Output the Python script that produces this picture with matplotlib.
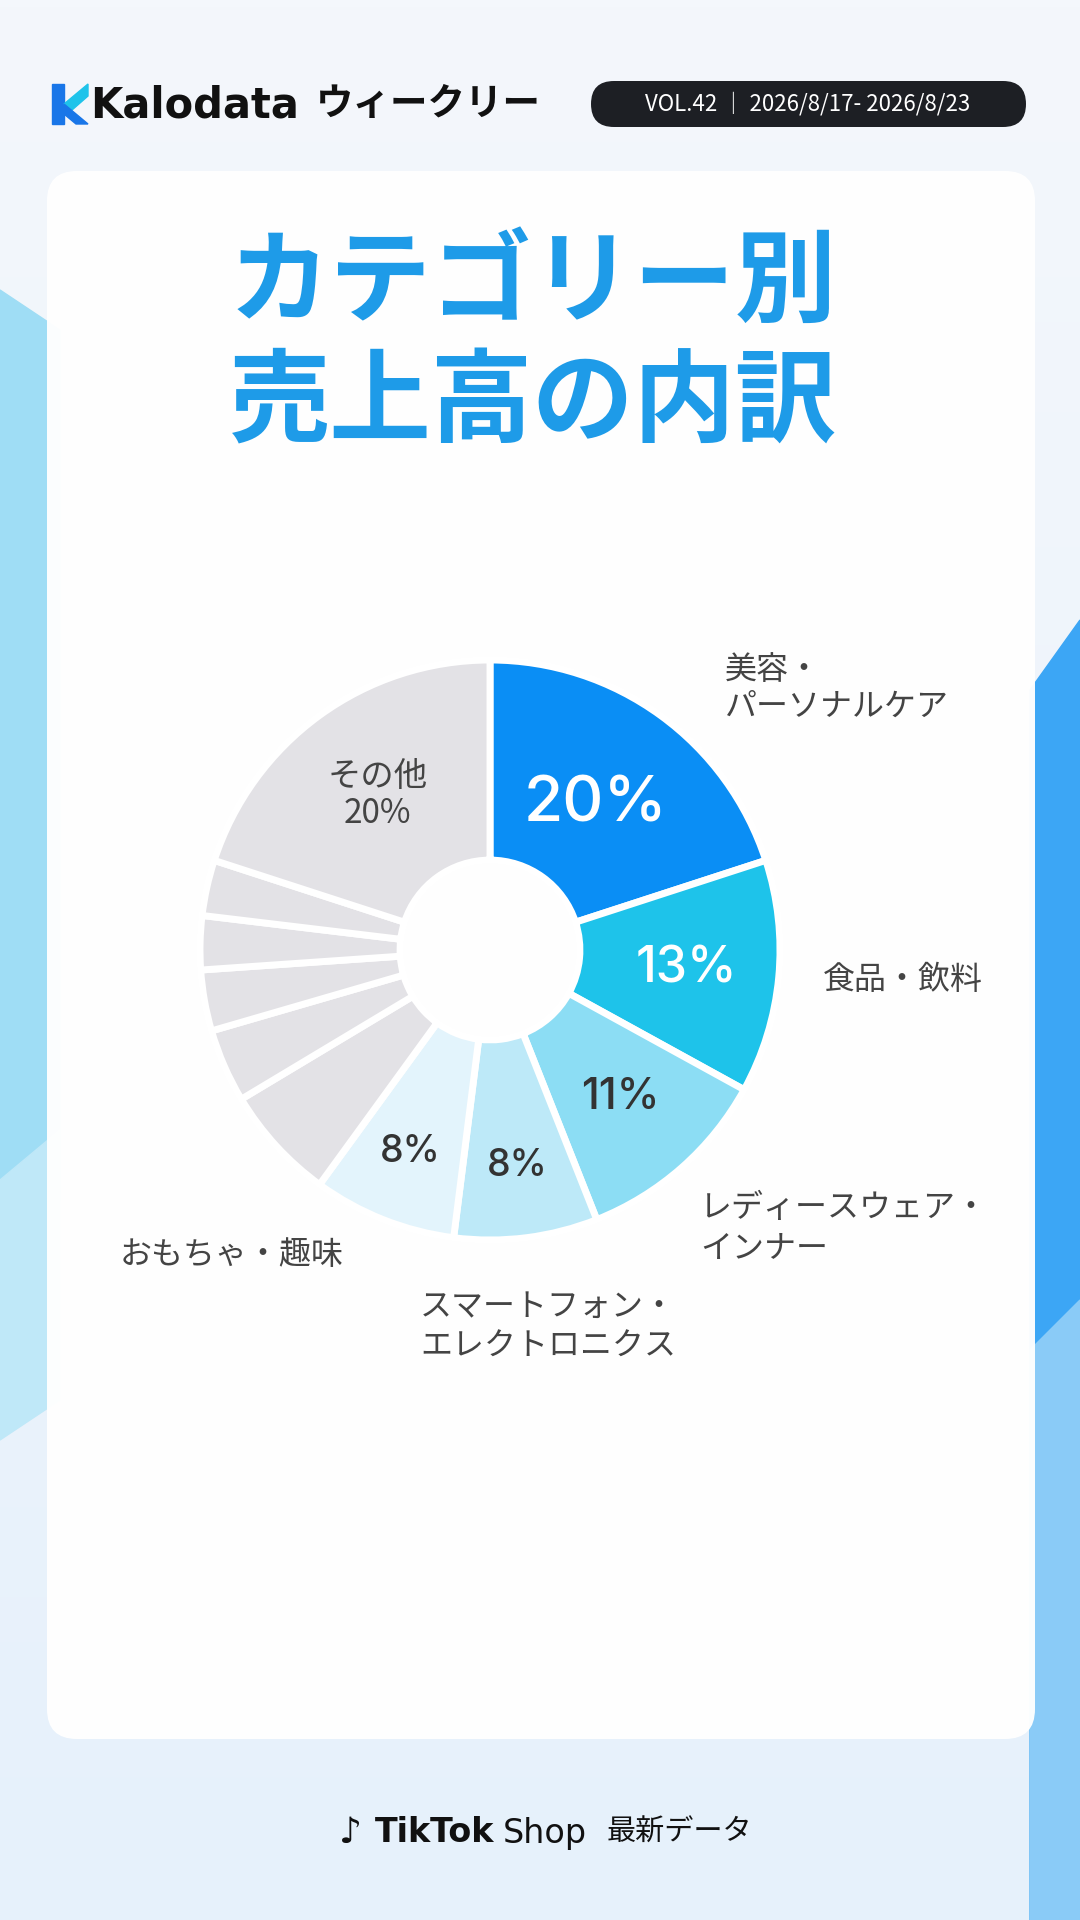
import matplotlib
matplotlib.use("Agg")
import matplotlib.pyplot as plt
import numpy as np
from matplotlib.patches import FancyBboxPatch, Polygon

plt.rcParams['font.family'] = ['Noto Sans CJK JP', 'DejaVu Sans']

categories = ["美容・\nパーソナルケア", "食品・飲料", "レディースウェア・\nインナー",
              "スマートフォン・\nエレクトロニクス", "おもちゃ・趣味",
              "g5", "g4", "g3", "g2", "g1", "その他"]
values = [20, 13, 11, 8, 8, 6.4, 4.1, 3.4, 3.0, 3.1, 20]
pct_labels = ["20%", "13%", "11%", "8%", "8%", "", "", "", "", "", ""]
colors = ["#0A8EF5", "#1EC3EA", "#8CDDF4", "#BDE9F8", "#E3F4FC",
          "#E3E2E6", "#E3E2E6", "#E3E2E6", "#E3E2E6", "#E3E2E6", "#E3E2E6"]

W, H = 1080, 1920
fig = plt.figure(figsize=(10.8, 19.2), dpi=100)
bg = fig.add_axes([0, 0, 1, 1])
bg.set_xlim(0, W); bg.set_ylim(H, 0); bg.axis("off")

grad = np.linspace(0, 1, 256).reshape(-1, 1)
bg.imshow(grad, extent=[0, W, H, 0], cmap=matplotlib.colors.LinearSegmentedColormap.from_list(
    "b", ["#F4F7FC", "#E6F1FB"]), aspect="auto", zorder=0)
bg.add_patch(Polygon([[0, 290], [60, 330], [60, 1200], [0, 1230]], color="#9FDDF5", zorder=1))
bg.add_patch(Polygon([[0, 1180], [60, 1130], [60, 1400], [0, 1440]], color="#BFE8F8", zorder=1))
bg.add_patch(Polygon([[1080, 620], [1030, 690], [1030, 1920], [1080, 1920]], color="#3CA6F5", zorder=1))
bg.add_patch(Polygon([[1080, 1300], [1030, 1350], [1030, 1920], [1080, 1920]], color="#8ACBF7", zorder=1))

bg.add_patch(FancyBboxPatch((47, 171), 988, 1568, boxstyle="round,pad=0,rounding_size=30",
                            fc="white", ec="none", alpha=0.97, zorder=2))

bg.add_patch(Polygon([[52, 84], [64, 84], [64, 124], [52, 124]], color="#1976E8", zorder=3))
bg.add_patch(Polygon([[64, 104], [88, 84], [88, 96], [72, 110]], color="#1EC3EA", zorder=3))
bg.add_patch(Polygon([[64, 104], [88, 124], [76, 124], [64, 114]], color="#1976E8", zorder=3))
bg.text(90, 106, "Kalodata", fontsize=30, fontweight="bold", color="#111111",
        ha="left", va="center", family=["DejaVu Sans"], zorder=3)
bg.text(316, 104, "ウィークリー", fontsize=27, fontweight="bold", color="#111111",
        ha="left", va="center", zorder=3)
bg.add_patch(FancyBboxPatch((591, 81), 435, 46, boxstyle="round,pad=0,rounding_size=23",
                            fc="#1D1F24", ec="none", zorder=3))
bg.text(808, 104, "VOL.42 ｜ 2026/8/17- 2026/8/23", fontsize=16, color="white",
        ha="center", va="center", zorder=4)

for y, t in [(284, "カテゴリー別"), (404, "売上高の内訳")]:
    bg.text(533, y, t, fontsize=73, fontweight="bold", color="#1E9BE8",
            ha="center", va="center", zorder=3)

cx, cy, r = 490, 950, 290
ax = fig.add_axes([(cx - r) / W, (H - cy - r) / H, 2 * r / W, 2 * r / H])
wedges, _ = ax.pie(values, colors=colors, startangle=90, counterclock=False,
                   wedgeprops=dict(width=0.69, edgecolor="white", linewidth=5))
ax.set_xlim(-1, 1); ax.set_ylim(-1, 1); ax.set_aspect("equal"); ax.axis("off")

pct_style = [(0.62, 46, "white"), (0.68, 36, "white"), (0.68, 31, "#333333"),
             (0.75, 27, "#333333"), (0.75, 27, "#333333")]
for w, lab, (rad, fs, col) in zip(wedges, pct_labels, pct_style):
    th = np.deg2rad((w.theta1 + w.theta2) / 2)
    ax.text(rad * np.cos(th), rad * np.sin(th), lab, fontsize=fs, color=col,
            ha="center", va="center", fontweight="medium", family=["Inter", "DejaVu Sans"])
th = np.deg2rad((wedges[-1].theta1 + wedges[-1].theta2) / 2)
ax.text(0.66 * np.cos(th), 0.66 * np.sin(th), categories[-1] + "\n20%", fontsize=24,
        color="#444444", ha="center", va="center", linespacing=1.05)

lab_col = "#444444"
bg.text(725, 688, categories[0], fontsize=23, color=lab_col, ha="left", va="center", linespacing=1.2, zorder=3)
bg.text(823, 980, categories[1], fontsize=23, color=lab_col, ha="left", va="center", zorder=3)
bg.text(700, 1228, categories[2], fontsize=23, color=lab_col, ha="left", va="center", linespacing=1.3, zorder=3)
bg.text(548, 1327, categories[3], fontsize=23, color=lab_col, ha="center", va="center", linespacing=1.3, zorder=3)
bg.text(120, 1255, categories[4], fontsize=23, color=lab_col, ha="left", va="center", zorder=3)

bg.text(350, 1833, "♪", fontsize=26, color="#111111", ha="center", va="center", zorder=3,
        family=["DejaVu Sans"])
bg.text(375, 1833, "TikTok", fontsize=24, fontweight="bold", color="#111111",
        ha="left", va="center", family=["DejaVu Sans"], zorder=3)
bg.text(503, 1833, "Shop", fontsize=24, color="#111111", ha="left", va="center",
        family=["DejaVu Sans"], zorder=3)
bg.text(607, 1833, "最新データ", fontsize=21, color="#111111", ha="left", va="center", zorder=3)

fig.savefig("out.png", dpi=100)
